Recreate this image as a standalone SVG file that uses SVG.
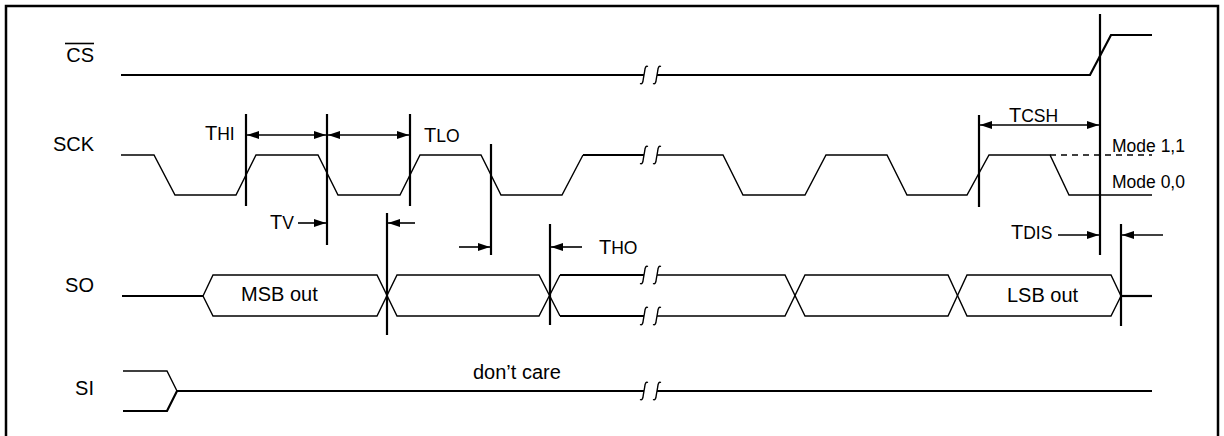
<svg xmlns="http://www.w3.org/2000/svg" width="1224" height="436" viewBox="0 0 1224 436">
<style>
  .lbl { font-family: "Liberation Sans", Arial, sans-serif; font-size: 20px; fill: #000; }
  .sm { font-size: 17.5px; }
  .w { fill: none; stroke: #000; stroke-width: 1.4; stroke-linejoin: miter; }
  .wt { fill: none; stroke: #000; stroke-width: 2.2; }
  .vl { fill: none; stroke: #000; stroke-width: 2.2; }
  .ar { fill: none; stroke: #000; stroke-width: 1.6; }
  .brk { fill: none; stroke: #000; stroke-width: 1.4; }
</style>
<defs>
  <marker id="ah" viewBox="0 0 12 8" refX="12" refY="4" markerWidth="12" markerHeight="8" markerUnits="userSpaceOnUse" orient="auto-start-reverse">
    <path d="M0,0 L12,4 L0,8 z" fill="#000"/>
  </marker>
  <path id="bk" d="M-4,8.5 Q-1.2,10 -0.7,4 L0.7,-4 Q1.2,-10 4,-8.5" class="brk"/>
</defs>
<rect x="6" y="6" width="1212" height="440" fill="#fff" stroke="#000" stroke-width="2.5"/>

<g id="labels">
  <text class="lbl" x="94" y="62" text-anchor="end">CS</text>
  <line x1="65" y1="43.5" x2="94" y2="43.5" stroke="#000" stroke-width="1.6"/>
  <text class="lbl" x="94" y="151" text-anchor="end">SCK</text>
  <text class="lbl" x="94" y="292" text-anchor="end">SO</text>
  <text class="lbl" x="94" y="395" text-anchor="end">SI</text>
</g>

<g id="cs">
  <path class="wt" d="M121,75 H644"/>
  <path class="wt" d="M657,75 H1090 L1111,35 H1152"/>
  <use href="#bk" x="644" y="75"/>
  <use href="#bk" x="657" y="75"/>
</g>

<g id="sck">
  <path class="w" d="M121,155 H154 L175,195 H236 L256,155 H318 L338,195 H400 L420,155 H481 L501,195 H562 L583,155"/>
  <path class="wt" d="M583,155 H644"/>
  <path class="w" d="M657,155 H723 L743,195 H805 L826,155 H887 L907,195 H967 L989,155 H1050 L1069,195 H1152"/>
  <path d="M1050,155 H1152" fill="none" stroke="#000" stroke-width="1.4" stroke-dasharray="6,5"/>
  <use href="#bk" x="644" y="155"/>
  <use href="#bk" x="657" y="155"/>
  <text class="lbl sm" x="1112" y="152">Mode 1,1</text>
  <text class="lbl sm" x="1112" y="188">Mode 0,0</text>
</g>

<g id="so">
  <path class="wt" d="M122,296 H203"/>
  <path class="w" d="M203,296 L213,275 H377 L397,316 H539 L560,275"/>
  <path class="w" d="M203,296 L213,316 H377 L397,275 H539 L560,316"/>
  <path class="wt" d="M560,275 H644 M560,316 H644"/>
  <path class="w" d="M657,275 H785 L805,316 H948 L967,275 H1111 L1121,296"/>
  <path class="w" d="M657,316 H785 L805,275 H948 L967,316 H1111 L1121,296"/>
  <path class="wt" d="M1121,296 H1152"/>
  <use href="#bk" x="644" y="275"/>
  <use href="#bk" x="657" y="275"/>
  <use href="#bk" x="644" y="316"/>
  <use href="#bk" x="657" y="316"/>
  <text class="lbl" x="241" y="301">MSB out</text>
  <text class="lbl" x="1007" y="302">LSB out</text>
</g>

<g id="si">
  <path class="w" d="M123,371 H167 L177,391"/>
  <path class="wt" d="M123,411 H167 L177,391 H644"/>
  <path class="wt" d="M657,391 H1152"/>
  <use href="#bk" x="644" y="391"/>
  <use href="#bk" x="657" y="391"/>
  <text class="lbl" x="473" y="379">don’t care</text>
</g>

<g id="timing-lines">
  <line class="vl" x1="246" y1="114" x2="246" y2="206"/>
  <line class="vl" x1="327" y1="114" x2="327" y2="245"/>
  <line class="vl" x1="410" y1="114" x2="410" y2="206"/>
  <line class="vl" x1="491" y1="144" x2="491" y2="255"/>
  <line class="vl" x1="387" y1="213" x2="387" y2="335"/>
  <line class="vl" x1="550" y1="224" x2="550" y2="325"/>
  <line class="vl" x1="979" y1="115" x2="979" y2="207"/>
  <line class="vl" x1="1100" y1="14" x2="1100" y2="255"/>
  <line class="vl" x1="1121" y1="224" x2="1121" y2="326"/>
</g>

<g id="connectors">
  <line class="ar" x1="247" y1="135" x2="326" y2="135" marker-start="url(#ah)" marker-end="url(#ah)"/>
  <line class="ar" x1="328" y1="135" x2="409" y2="135" marker-start="url(#ah)" marker-end="url(#ah)"/>
  <line class="ar" x1="298" y1="223" x2="326" y2="223" marker-end="url(#ah)"/>
  <line class="ar" x1="415" y1="223" x2="388" y2="223" marker-end="url(#ah)"/>
  <line class="ar" x1="459" y1="247" x2="490" y2="247" marker-end="url(#ah)"/>
  <line class="ar" x1="582" y1="247" x2="551" y2="247" marker-end="url(#ah)"/>
  <line class="ar" x1="980" y1="125" x2="1099" y2="125" marker-start="url(#ah)" marker-end="url(#ah)"/>
  <line class="ar" x1="1058" y1="235" x2="1099" y2="235" marker-end="url(#ah)"/>
  <line class="ar" x1="1163" y1="235" x2="1122" y2="235" marker-end="url(#ah)"/>
</g>

<g id="timing-labels">
  <text class="lbl" x="205" y="140">T<tspan class="sm">HI</tspan></text>
  <text class="lbl" x="424" y="142">T<tspan class="sm">LO</tspan></text>
  <text class="lbl" x="270" y="229">T<tspan class="sm">V</tspan></text>
  <text class="lbl" x="599" y="254">T<tspan class="sm">HO</tspan></text>
  <text class="lbl" x="1009" y="122">T<tspan class="sm">CSH</tspan></text>
  <text class="lbl" x="1011" y="239">T<tspan class="sm">DIS</tspan></text>
</g>
</svg>
